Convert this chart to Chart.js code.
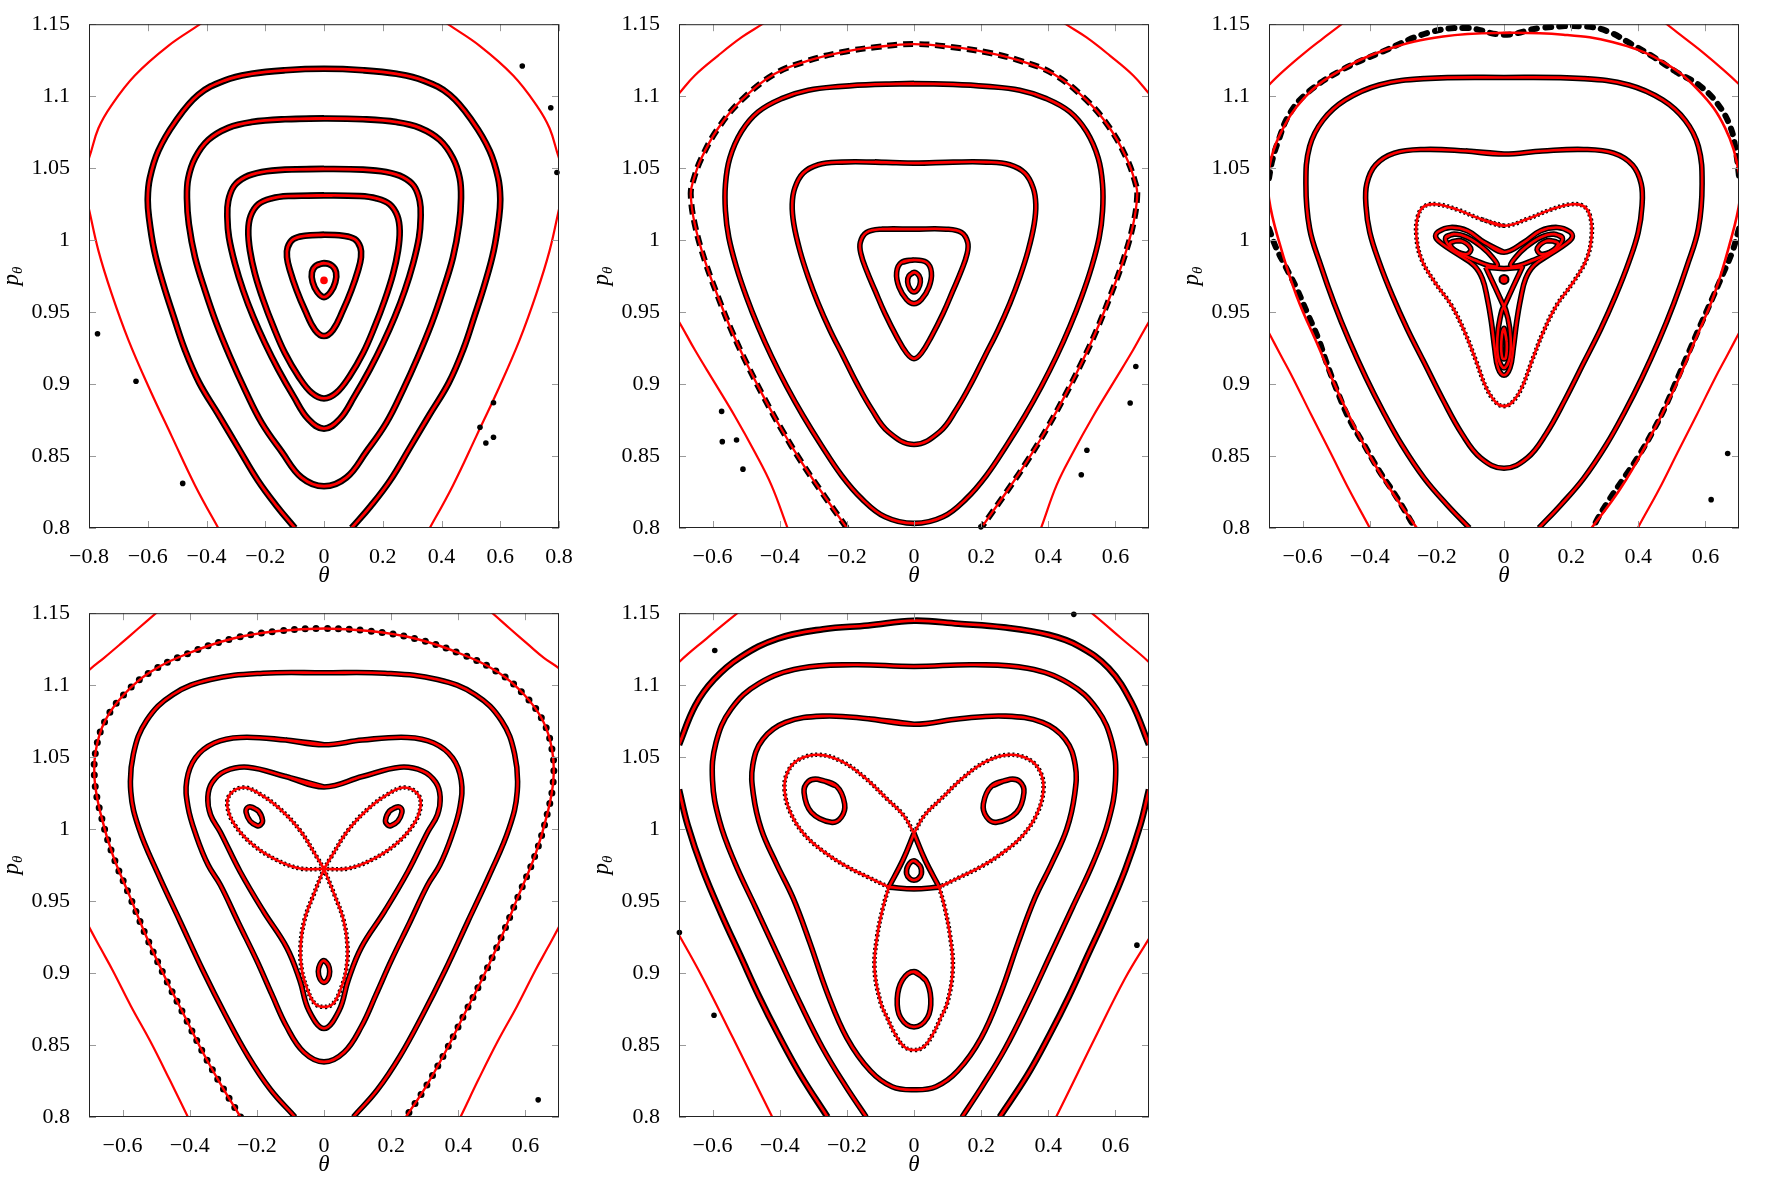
<!DOCTYPE html>
<html>
<head>
<meta charset="utf-8">
<title>Poincaré sections</title>
<script src="https://cdn.jsdelivr.net/npm/chart.js@4/dist/chart.umd.min.js"></script>
<style>
  html, body { margin: 0; padding: 0; background: #fff; }
  #sheet { position: relative; width: 1771px; height: 1180px; background: #fff; }
  #sheet canvas { position: absolute; }
</style>
</head>
<body>
<div id="sheet"></div>
<script>
// tick values
const yTicks = [0.8, 0.85, 0.9, 0.95, 1, 1.05, 1.1, 1.15];
const xTicksWide = [-0.8, -0.6, -0.4, -0.2, 0, 0.2, 0.4, 0.6, 0.8];
const xTicksNarrow = [-0.6, -0.4, -0.2, 0, 0.2, 0.4, 0.6];

// ---------- panel 1 (theta, p_theta) ----------
const p1SepTopLeft = [[-0.81,1.054],[-0.8,1.057],[-0.768,1.0777],[-0.723,1.0938],[-0.644,1.1144],[-0.53,1.135],[-0.422,1.15],[-0.41,1.152]];
const p1SepTopRight = [[0.41,1.152],[0.422,1.15],[0.53,1.135],[0.644,1.1144],[0.723,1.0938],[0.768,1.0777],[0.8,1.057],[0.81,1.054]];
const p1SepBottomLeft = [[-0.81,1.03],[-0.8,1.0214],[-0.768,0.9927],[-0.723,0.9628],[-0.666,0.9307],[-0.598,0.8985],[-0.519,0.864],[-0.439,0.8296],[-0.36,0.8],[-0.35,0.797]];
const p1SepBottomRight = [[0.81,1.03],[0.8,1.0214],[0.768,0.9927],[0.723,0.9628],[0.666,0.9307],[0.598,0.8985],[0.519,0.864],[0.439,0.8296],[0.36,0.8],[0.35,0.797]];
const p1Outer = [[-0.099,0.8],[-0.16,0.815],[-0.225,0.833],[-0.29,0.855],[-0.357,0.878],[-0.425,0.901],[-0.474,0.924],[-0.512,0.947],[-0.548,0.97],[-0.578,0.993],[-0.596,1.016],[-0.6,1.029],[-0.593,1.043],[-0.564,1.062],[-0.507,1.082],[-0.428,1.101],[-0.337,1.111],[-0.247,1.1155],[-0.133,1.118],[0,1.119],[0.133,1.118],[0.247,1.1155],[0.337,1.111],[0.428,1.101],[0.507,1.082],[0.564,1.062],[0.593,1.043],[0.6,1.029],[0.596,1.016],[0.578,0.993],[0.548,0.97],[0.512,0.947],[0.474,0.924],[0.425,0.901],[0.357,0.878],[0.29,0.855],[0.225,0.833],[0.158,0.815],[0.094,0.8]];
const p1Ring1 = [[0,1.0845],[-0.133,1.084],[-0.247,1.082],[-0.326,1.078],[-0.394,1.0696],[-0.439,1.057],[-0.462,1.043],[-0.4665,1.029],[-0.46,1.011],[-0.439,0.988],[-0.405,0.965],[-0.366,0.942],[-0.32,0.919],[-0.269,0.896],[-0.212,0.873],[-0.144,0.853],[-0.076,0.835],[0,0.829],[0.076,0.835],[0.144,0.853],[0.212,0.873],[0.269,0.896],[0.32,0.919],[0.366,0.942],[0.405,0.965],[0.439,0.988],[0.46,1.011],[0.4665,1.029],[0.462,1.043],[0.439,1.057],[0.394,1.0696],[0.326,1.078],[0.247,1.082],[0.133,1.084]];
const p1Ring2 = [[0,1.0494],[-0.133,1.049],[-0.212,1.0473],[-0.269,1.0437],[-0.3065,1.0375],[-0.326,1.0271],[-0.329,1.0156],[-0.3235,1.0019],[-0.303,0.9835],[-0.275,0.965],[-0.241,0.9467],[-0.201,0.9284],[-0.1555,0.91],[-0.104,0.8916],[-0.053,0.8755],[0,0.869],[0.053,0.8755],[0.104,0.8916],[0.1555,0.91],[0.201,0.9284],[0.241,0.9467],[0.275,0.965],[0.303,0.9835],[0.3235,1.0019],[0.329,1.0156],[0.326,1.0271],[0.3065,1.0375],[0.269,1.0437],[0.212,1.0473],[0.133,1.049]];
const p1Ring3 = [[0,1.031],[-0.1215,1.0306],[-0.178,1.029],[-0.2236,1.0249],[-0.2497,1.0168],[-0.2577,1.0065],[-0.252,0.9927],[-0.235,0.9766],[-0.2066,0.9582],[-0.1725,0.9399],[-0.133,0.9215],[-0.087,0.9054],[-0.042,0.8939],[0,0.89],[0.042,0.8939],[0.087,0.9054],[0.133,0.9215],[0.1725,0.9399],[0.2066,0.9582],[0.235,0.9766],[0.252,0.9927],[0.2577,1.0065],[0.2497,1.0168],[0.2236,1.0249],[0.178,1.029],[0.1215,1.0306]];
const p1Ring4 = [[0,1.0037],[-0.0647,1.003],[-0.1044,1.0007],[-0.1237,0.995],[-0.126,0.9881],[-0.1158,0.9789],[-0.093,0.9651],[-0.0647,0.9513],[-0.0306,0.9376],[0,0.9334],[0.0306,0.9376],[0.0647,0.9513],[0.093,0.9651],[0.1158,0.9789],[0.126,0.9881],[0.1237,0.995],[0.1044,1.0007],[0.0647,1.003]];
const p1Ring5 = [[0,0.984],[-0.027,0.9823],[-0.041,0.9777],[-0.0386,0.9708],[-0.0227,0.9639],[0,0.9604],[0.0227,0.9639],[0.0386,0.9708],[0.041,0.9777],[0.027,0.9823]];
const p1Centre = [[0,0.972]];
const p1Dots = [[-0.771,0.935],[-0.64,0.902],[-0.481,0.831],[0.675,1.121],[0.772,1.092],[0.793,1.047],[0.531,0.87],[0.551,0.859],[0.577,0.887],[0.577,0.863]];

// ---------- panel 2 ----------
const p2SepTopLeft = [[-0.71,1.099],[-0.7,1.1018],[-0.653,1.1144],[-0.5835,1.1282],[-0.514,1.1408],[-0.452,1.15],[-0.44,1.152]];
const p2SepTopRight = [[0.44,1.152],[0.452,1.15],[0.514,1.1408],[0.5835,1.1282],[0.653,1.1144],[0.7,1.1018],[0.71,1.099]];
const p2SepBottomLeft = [[-0.71,0.946],[-0.7,0.9433],[-0.653,0.9238],[-0.5934,0.9008],[-0.534,0.8778],[-0.474,0.8526],[-0.4245,0.8296],[-0.3767,0.8],[-0.37,0.796]];
const p2SepBottomRight = [[0.71,0.946],[0.7,0.9433],[0.653,0.9238],[0.5934,0.9008],[0.534,0.8778],[0.474,0.8526],[0.4245,0.8296],[0.3785,0.8],[0.37,0.796]];
const p2Chaotic = [[-0.2,0.8],[-0.2753,0.825],[-0.335,0.8457],[-0.3946,0.8686],[-0.449,0.8916],[-0.499,0.9146],[-0.544,0.9375],[-0.5835,0.9605],[-0.623,0.9858],[-0.653,1.011],[-0.665,1.0317],[-0.658,1.0409],[-0.633,1.057],[-0.5835,1.0777],[-0.514,1.0972],[-0.4145,1.1155],[-0.315,1.1247],[-0.2157,1.1305],[-0.1163,1.134],[0,1.1362],[0.1163,1.134],[0.2157,1.1305],[0.315,1.1247],[0.4145,1.1155],[0.514,1.0972],[0.5835,1.0777],[0.633,1.057],[0.658,1.0409],[0.665,1.0317],[0.653,1.011],[0.623,0.9858],[0.5835,0.9605],[0.544,0.9375],[0.499,0.9146],[0.449,0.8916],[0.3946,0.8686],[0.335,0.8457],[0.2753,0.825],[0.2,0.8]];
const p2Ring1 = [[0,1.1087],[-0.1163,1.1082],[-0.2157,1.1068],[-0.315,1.1041],[-0.3946,1.0983],[-0.4642,1.0891],[-0.514,1.0754],[-0.5487,1.057],[-0.5616,1.0386],[-0.5616,1.0202],[-0.5517,1.0019],[-0.5288,0.9812],[-0.499,0.9605],[-0.4642,0.9399],[-0.4245,0.9192],[-0.3797,0.8985],[-0.33,0.8778],[-0.2753,0.8572],[-0.2157,0.8365],[-0.156,0.8204],[-0.0865,0.8078],[0,0.8032],[0.0865,0.8078],[0.156,0.8204],[0.2157,0.8365],[0.2753,0.8572],[0.33,0.8778],[0.3797,0.8985],[0.4245,0.9192],[0.4642,0.9399],[0.499,0.9605],[0.5288,0.9812],[0.5517,1.0019],[0.5616,1.0202],[0.5616,1.0386],[0.5487,1.057],[0.514,1.0754],[0.4642,1.0891],[0.3946,1.0983],[0.315,1.1041],[0.2157,1.1068],[0.1163,1.1082]];
const p2Ring2 = [[0,1.0535],[-0.1163,1.0542],[-0.2157,1.0542],[-0.2853,1.0524],[-0.33,1.0466],[-0.3549,1.0363],[-0.3628,1.0248],[-0.3579,1.011],[-0.34,0.9927],[-0.3151,0.9743],[-0.2853,0.9559],[-0.2505,0.9376],[-0.2107,0.9192],[-0.171,0.9008],[-0.1262,0.8825],[-0.0765,0.8668],[0,0.858],[0.0765,0.8668],[0.1262,0.8825],[0.171,0.9008],[0.2107,0.9192],[0.2505,0.9376],[0.2853,0.9559],[0.3151,0.9743],[0.34,0.9927],[0.3579,1.011],[0.3628,1.0248],[0.3549,1.0363],[0.33,1.0466],[0.2853,1.0524],[0.2157,1.0542],[0.1163,1.0542]];
const p2Ring3 = [[0,1.0076],[-0.0964,1.0076],[-0.1412,1.0053],[-0.16,0.9984],[-0.158,0.9904],[-0.1412,0.9789],[-0.1163,0.9651],[-0.0865,0.949],[-0.0517,0.933],[-0.0219,0.9215],[0,0.9176],[0.0219,0.9215],[0.0517,0.933],[0.0865,0.949],[0.1163,0.9651],[0.1412,0.9789],[0.158,0.9904],[0.16,0.9984],[0.1412,1.0053],[0.0964,1.0076]];
const p2Ring4 = [[0,0.9862],[-0.0368,0.9846],[-0.0517,0.9777],[-0.0447,0.9674],[-0.0219,0.9587],[0,0.9559],[0.0219,0.9587],[0.0447,0.9674],[0.0517,0.9777],[0.0368,0.9846]];
const p2Ring5 = [[0,0.9777],[-0.015,0.9752],[-0.019,0.971],[-0.012,0.966],[0,0.964],[0.012,0.966],[0.019,0.971],[0.015,0.9752]];
const p2Dots = [[-0.573,0.881],[-0.571,0.86],[-0.5286,0.8611],[-0.5095,0.8409],[0.1993,0.8008],[0.6607,0.9122],[0.6439,0.8868],[0.4983,0.837],[0.515,0.854]];

// ---------- panel 3 ----------
const p3SepTopLeft = [[-0.71,1.104],[-0.7,1.1078],[-0.65,1.119],[-0.5958,1.1298],[-0.54,1.14],[-0.4838,1.15],[-0.47,1.153]];
const p3SepTopRight = [[0.47,1.153],[0.4849,1.15],[0.54,1.14],[0.5958,1.1298],[0.65,1.119],[0.7,1.1083],[0.71,1.105]];
const p3SepBottomLeft = [[-0.71,0.94],[-0.7,0.9355],[-0.665,0.92],[-0.6293,0.9044],[-0.575,0.879],[-0.5174,0.8526],[-0.46,0.826],[-0.3998,0.8],[-0.39,0.795]];
const p3SepBottomRight = [[0.71,0.94],[0.7,0.9355],[0.665,0.92],[0.6293,0.9044],[0.575,0.879],[0.5174,0.8526],[0.46,0.826],[0.3987,0.8],[0.39,0.795]];
const p3Boundary = [[-0.2598,0.8],[-0.3382,0.8267],[-0.4054,0.8526],[-0.4838,0.8889],[-0.551,0.9251],[-0.6181,0.9614],[-0.6685,0.9977],[-0.7,1.0288],[-0.7,1.0495],[-0.6685,1.0728],[-0.5958,1.0987],[-0.495,1.1168],[-0.3494,1.1324],[-0.1814,1.1415],[0,1.144],[0.1769,1.1427],[0.3225,1.1376],[0.4681,1.1246],[0.58,1.1039],[0.6585,1.078],[0.7,1.0469],[0.703,1.0288],[0.6697,0.9951],[0.6249,0.9614],[0.5689,0.9303],[0.5017,0.894],[0.4233,0.8578],[0.3449,0.8267],[0.2609,0.8]];
const p3ChaosTop = [[-0.7,1.043],[-0.691,1.0547],[-0.6741,1.0676],[-0.6405,1.087],[-0.5845,1.1026],[-0.4838,1.1181],[-0.3606,1.1311],[-0.2262,1.144],[-0.1142,1.1474],[0,1.1427],[0.1097,1.1474],[0.2441,1.1484],[0.3113,1.1448],[0.3785,1.1363],[0.4457,1.1272],[0.5129,1.1168],[0.58,1.1078],[0.636,1.0948],[0.6753,1.078],[0.692,1.0598],[0.7,1.0443]];
const p3ChaosLeft = [[-0.7,1.008],[-0.6797,0.9951],[-0.6517,0.9821],[-0.6181,0.9666],[-0.5845,0.9485],[-0.551,0.9303],[-0.5286,0.9148],[-0.495,0.8941],[-0.4614,0.8759],[-0.4166,0.8578],[-0.3718,0.8397],[-0.327,0.8241],[-0.2934,0.8112],[-0.2654,0.8]];
const p3ChaosRight = [[0.7,1.008],[0.681,0.9925],[0.6529,0.9769],[0.6193,0.9588],[0.58,0.9381],[0.5465,0.92],[0.5129,0.9018],[0.4793,0.8837],[0.4457,0.8681],[0.4009,0.85],[0.3561,0.8344],[0.3113,0.8189],[0.2777,0.806],[0.2665,0.8]];
const p3Ring1 = [[-0.103,0.8],[-0.1702,0.8163],[-0.2374,0.8345],[-0.3046,0.8578],[-0.3606,0.8811],[-0.411,0.9044],[-0.4614,0.9303],[-0.5062,0.9562],[-0.5454,0.9821],[-0.579,1.008],[-0.5901,1.0391],[-0.579,1.065],[-0.5398,1.0832],[-0.4726,1.0974],[-0.3718,1.1078],[-0.2374,1.1122],[0,1.113],[0.2374,1.1122],[0.3718,1.1078],[0.4726,1.0974],[0.5398,1.0832],[0.579,1.065],[0.5901,1.0391],[0.579,1.008],[0.5454,0.9821],[0.5062,0.9562],[0.4614,0.9303],[0.411,0.9044],[0.3606,0.8811],[0.3046,0.8578],[0.2374,0.8345],[0.1702,0.8163],[0.104,0.8]];
const p3Ring2 = [[0,1.0598],[-0.1142,1.0619],[-0.2374,1.063],[-0.327,1.0604],[-0.383,1.0521],[-0.4087,1.0391],[-0.411,1.0236],[-0.3998,1.0054],[-0.3718,0.9847],[-0.3326,0.9614],[-0.2878,0.9381],[-0.2374,0.9148],[-0.1814,0.8889],[-0.1254,0.8655],[-0.0694,0.8487],[0,0.8415],[0.0694,0.8487],[0.1254,0.8655],[0.1814,0.8889],[0.2374,0.9148],[0.2878,0.9381],[0.3326,0.9614],[0.3718,0.9847],[0.3998,1.0054],[0.411,1.0236],[0.4087,1.0391],[0.383,1.0521],[0.327,1.0604],[0.2374,1.063],[0.1142,1.0619]];
const p3Chain = [[0,1.01],[-0.0678,1.0145],[-0.1373,1.021],[-0.1968,1.0248],[-0.2363,1.0237],[-0.2562,1.0168],[-0.261,1.003],[-0.2461,0.9869],[-0.2066,0.9709],[-0.157,0.9548],[-0.1174,0.9364],[-0.0826,0.9157],[-0.0529,0.8974],[-0.0232,0.887],[0,0.8847],[0.0232,0.887],[0.0529,0.8974],[0.0826,0.9157],[0.1174,0.9364],[0.157,0.9548],[0.2066,0.9709],[0.2461,0.9869],[0.261,1.003],[0.2562,1.0168],[0.2363,1.0237],[0.1968,1.0248],[0.1373,1.021],[0.0678,1.0145]];
const p3Trefoil = [[0,0.9916],[-0.0595,0.9985],[-0.109,1.0065],[-0.1586,1.0088],[-0.1962,1.0058],[-0.2032,1.0019],[-0.1834,0.9973],[-0.1388,0.9904],[-0.0892,0.9824],[-0.0644,0.9732],[-0.0496,0.9594],[-0.0377,0.9433],[-0.0278,0.925],[-0.0178,0.9112],[0,0.9061],[0.0178,0.9112],[0.0278,0.925],[0.0377,0.9433],[0.0496,0.9594],[0.0644,0.9732],[0.0892,0.9824],[0.1388,0.9904],[0.1834,0.9973],[0.2032,1.0019],[0.1962,1.0058],[0.1586,1.0088],[0.109,1.0065],[0.0595,0.9985]];
const p3LobeL = [[-0.1734,1.0019],[-0.1487,1.0042],[-0.109,1.0019],[-0.0644,0.995],[-0.0347,0.9881],[-0.0198,0.9824],[-0.0446,0.9824],[-0.0842,0.9858],[-0.1288,0.9904],[-0.1635,0.9962]];
const p3LobeR = [[0.1734,1.0019],[0.1487,1.0042],[0.109,1.0019],[0.0644,0.995],[0.0347,0.9881],[0.0198,0.9824],[0.0446,0.9824],[0.0842,0.9858],[0.1288,0.9904],[0.1635,0.9962]];
const p3LobeB = [[0,0.9537],[0.0119,0.9456],[0.0198,0.9319],[0.0168,0.9181],[0,0.9112],[-0.0168,0.9181],[-0.0198,0.9319],[-0.0119,0.9456]];
const p3Triangle = [[-0.0545,0.9812],[0,0.9802],[0.0545,0.9812],[0.026,0.967],[0,0.9537],[-0.026,0.967]];
const p3IslandL = [[-0.1586,0.9985],[-0.1288,0.9996],[-0.0991,0.9943],[-0.109,0.9904],[-0.1388,0.9916],[-0.1566,0.995]];
const p3IslandR = [[0.1586,0.9985],[0.1288,0.9996],[0.0991,0.9943],[0.109,0.9904],[0.1388,0.9916],[0.1566,0.995]];
const p3IslandB = [[0,0.9388],[0.008,0.9296],[0.005,0.918],[-0.005,0.918],[-0.008,0.9296]];
const p3Centre = [[0,0.9727]];
const p3Dots = [[0.6663,0.8518],[0.617,0.8197]];

// ---------- panel 4 ----------
const p4SepTopLeft = [[-0.71,1.107],[-0.7,1.1104],[-0.655,1.119],[-0.607,1.1285],[-0.555,1.139],[-0.5006,1.15],[-0.49,1.152]];
const p4SepTopRight = [[0.49,1.152],[0.5017,1.15],[0.555,1.139],[0.607,1.1285],[0.655,1.119],[0.7,1.1117],[0.71,1.109]];
const p4SepBottomLeft = [[-0.71,0.937],[-0.7,0.9321],[-0.665,0.917],[-0.6293,0.9018],[-0.575,0.877],[-0.5174,0.8526],[-0.46,0.826],[-0.4054,0.8],[-0.395,0.795]];
const p4SepBottomRight = [[0.71,0.937],[0.7,0.9321],[0.665,0.917],[0.6293,0.9018],[0.575,0.877],[0.5174,0.8526],[0.46,0.826],[0.4065,0.8],[0.395,0.795]];
const p4Beads = [[-0.2486,0.8],[-0.3046,0.8215],[-0.3606,0.8448],[-0.4166,0.8707],[-0.4726,0.8966],[-0.5286,0.9251],[-0.579,0.9536],[-0.6293,0.9821],[-0.6652,1.0106],[-0.6831,1.0339],[-0.6797,1.0547],[-0.6517,1.0754],[-0.5958,1.0935],[-0.5174,1.1091],[-0.4054,1.122],[-0.271,1.1324],[-0.1366,1.1376],[0,1.1394],[0.1366,1.1376],[0.271,1.1324],[0.4054,1.122],[0.5174,1.1091],[0.5958,1.0935],[0.6517,1.0754],[0.6797,1.0547],[0.6831,1.0339],[0.6652,1.0106],[0.6293,0.9821],[0.579,0.9536],[0.5286,0.9251],[0.4726,0.8966],[0.4166,0.8707],[0.3606,0.8448],[0.3046,0.8215],[0.2441,0.8]];
const p4Ring1 = [[-0.0862,0.8],[-0.159,0.8189],[-0.2262,0.8422],[-0.2934,0.8707],[-0.3606,0.9018],[-0.4278,0.9355],[-0.495,0.9692],[-0.551,1.0003],[-0.5756,1.0262],[-0.5678,1.0521],[-0.5286,1.0754],[-0.4502,1.0935],[-0.3382,1.1039],[-0.1814,1.1083],[0,1.1086],[0.1814,1.1083],[0.3382,1.1039],[0.4502,1.0935],[0.5286,1.0754],[0.5678,1.0521],[0.5756,1.0262],[0.551,1.0003],[0.495,0.9692],[0.4278,0.9355],[0.3606,0.9018],[0.2934,0.8707],[0.2262,0.8422],[0.159,0.8189],[0.0873,0.8]];
const p4Ring2 = [[0,1.0586],[-0.1142,1.0619],[-0.2486,1.0637],[-0.327,1.0598],[-0.383,1.0495],[-0.4087,1.0339],[-0.4054,1.0158],[-0.38,0.995],[-0.345,0.975],[-0.309,0.9613],[-0.255,0.935],[-0.2,0.9086],[-0.155,0.885],[-0.111,0.8627],[-0.06,0.845],[0,0.8383],[0.06,0.845],[0.111,0.8627],[0.155,0.885],[0.2,0.9086],[0.255,0.935],[0.309,0.9613],[0.345,0.975],[0.38,0.995],[0.4054,1.0158],[0.4087,1.0339],[0.383,1.0495],[0.327,1.0598],[0.2486,1.0637],[0.1142,1.0619]];
const p4Ring3 = [[0,1.0293],[-0.1142,1.0365],[-0.2262,1.043],[-0.2934,1.0404],[-0.3326,1.0326],[-0.346,1.0223],[-0.338,1.01],[-0.309,0.998],[-0.2497,0.9704],[-0.1804,0.9429],[-0.111,0.9177],[-0.072,0.895],[-0.045,0.874],[0,0.8615],[0.045,0.874],[0.072,0.895],[0.111,0.9177],[0.1804,0.9429],[0.2497,0.9704],[0.309,0.998],[0.338,1.01],[0.346,1.0223],[0.3326,1.0326],[0.2934,1.0404],[0.2262,1.043],[0.1142,1.0365]];
const p4LobeL = [[0,0.9723],[-0.0218,0.9808],[-0.0714,0.9991],[-0.1308,1.014],[-0.1903,1.0243],[-0.2398,1.0289],[-0.2795,1.0243],[-0.2874,1.0152],[-0.2646,1.0025],[-0.2101,0.9888],[-0.1407,0.9785],[-0.0714,0.9727],[0,0.9723]];
const p4LobeR = [[0,0.9723],[0.0218,0.9808],[0.0714,0.9991],[0.1308,1.014],[0.1903,1.0243],[0.2398,1.0289],[0.2795,1.0243],[0.2874,1.0152],[0.2646,1.0025],[0.2101,0.9888],[0.1407,0.9785],[0.0714,0.9727],[0,0.9723]];
const p4LobeB = [[0,0.9723],[0.03,0.955],[0.058,0.937],[0.07,0.918],[0.066,0.902],[0.05,0.889],[0.028,0.879],[0,0.8765],[-0.028,0.879],[-0.05,0.889],[-0.066,0.902],[-0.07,0.918],[-0.058,0.937],[-0.03,0.955],[0,0.9723]];
const p4IslandL = [[-0.215,1.0152],[-0.195,1.0125],[-0.183,1.006],[-0.19,1.0028],[-0.2,1.0025],[-0.22,1.0055],[-0.232,1.0115],[-0.228,1.0148]];
const p4IslandR = [[0.215,1.0152],[0.195,1.0125],[0.183,1.006],[0.19,1.0028],[0.2,1.0025],[0.22,1.0055],[0.232,1.0115],[0.228,1.0148]];
const p4IslandB = [[0,0.9087],[0.012,0.906],[0.017,0.901],[0.012,0.896],[0,0.8935],[-0.012,0.896],[-0.017,0.901],[-0.012,0.906]];
const p4Dots = [[0.638,0.8119]];

// ---------- panel 5 ----------
const p5SepTopLeft = [[-0.71,1.112],[-0.7,1.116],[-0.6181,1.1324],[-0.5263,1.15],[-0.515,1.152]];
const p5SepTopRight = [[0.515,1.152],[0.5297,1.15],[0.618,1.1324],[0.7,1.116],[0.71,1.112]];
const p5SepBottomLeft = [[-0.71,0.93],[-0.7,0.9264],[-0.6293,0.8966],[-0.5398,0.8552],[-0.4222,0.8],[-0.41,0.795]];
const p5SepBottomRight = [[0.71,0.928],[0.7,0.924],[0.6293,0.8966],[0.5398,0.8552],[0.4233,0.8],[0.41,0.795]];
const p5OuterTop = [[-0.7,1.0586],[-0.6517,1.0858],[-0.5958,1.1039],[-0.5174,1.1194],[-0.4054,1.1324],[-0.271,1.1389],[-0.1366,1.1415],[0,1.1448],[0.1321,1.1427],[0.2665,1.1402],[0.4009,1.135],[0.4905,1.1272],[0.58,1.1117],[0.6472,1.0883],[0.7,1.0586]];
const p5OuterLeft = [[-0.7,1.0275],[-0.6741,1.0028],[-0.6293,0.9718],[-0.5734,0.9407],[-0.5174,0.9122],[-0.4614,0.8837],[-0.4054,0.8578],[-0.3382,0.8293],[-0.2576,0.8]];
const p5OuterRight = [[0.7,1.0275],[0.6741,1.0028],[0.6293,0.9718],[0.5734,0.9407],[0.5174,0.9122],[0.4614,0.8837],[0.4054,0.8578],[0.3382,0.8293],[0.2553,0.8]];
const p5Ring1 = [[-0.1422,0.8],[-0.2038,0.8215],[-0.271,0.8474],[-0.3382,0.8785],[-0.4054,0.9122],[-0.4726,0.9459],[-0.5342,0.9769],[-0.579,1.0054],[-0.6002,1.0339],[-0.5901,1.0598],[-0.5454,1.0832],[-0.4614,1.1013],[-0.3382,1.1117],[-0.1814,1.1142],[0,1.113],[0.1814,1.1142],[0.3382,1.1117],[0.4614,1.1013],[0.5454,1.0832],[0.5901,1.0598],[0.6002,1.0339],[0.579,1.0054],[0.5342,0.9769],[0.4726,0.9459],[0.4054,0.9122],[0.3382,0.8785],[0.271,0.8474],[0.2038,0.8215],[0.1433,0.8]];
const p5Ring2 = [[0,1.0728],[-0.1366,1.0767],[-0.271,1.0785],[-0.383,1.0741],[-0.4502,1.0624],[-0.4804,1.0443],[-0.4782,1.0236],[-0.455,1.0],[-0.41,0.976],[-0.36,0.952],[-0.31,0.921],[-0.258,0.886],[-0.2,0.855],[-0.13,0.832],[-0.065,0.821],[0,0.8189],[0.065,0.821],[0.13,0.832],[0.2,0.855],[0.258,0.886],[0.31,0.921],[0.36,0.952],[0.41,0.976],[0.455,1.0],[0.4782,1.0236],[0.4804,1.0443],[0.4502,1.0624],[0.383,1.0741],[0.271,1.0785],[0.1366,1.0767]];
const p5LobeL = [[-0.075,0.9597],[-0.1366,0.9666],[-0.2038,0.9744],[-0.271,0.9847],[-0.327,0.9964],[-0.3662,1.0106],[-0.3852,1.0262],[-0.3774,1.0391],[-0.3438,1.0482],[-0.2822,1.0516],[-0.215,1.047],[-0.1478,1.036],[-0.0806,1.021],[-0.0302,1.0093],[0,0.997]];
const p5LobeR = [[0,0.997],[0.0302,1.0093],[0.0806,1.021],[0.1478,1.036],[0.215,1.047],[0.2822,1.0516],[0.3438,1.0482],[0.3774,1.0391],[0.3852,1.0262],[0.3662,1.0106],[0.327,0.9964],[0.271,0.9847],[0.2038,0.9744],[0.1366,0.9666],[0.075,0.9597]];
const p5LobeB = [[0.075,0.9597],[0.092,0.945],[0.108,0.925],[0.1155,0.903],[0.1,0.88],[0.078,0.868],[0.055,0.857],[0.03,0.849],[0,0.8465],[-0.03,0.849],[-0.055,0.857],[-0.078,0.868],[-0.1,0.88],[-0.1175,0.903],[-0.11,0.925],[-0.093,0.945],[-0.075,0.9597]];
const p5EdgeL = [[0,0.997],[-0.033,0.9785],[-0.075,0.9597]];
const p5EdgeR = [[0,0.997],[0.033,0.9785],[0.075,0.9597]];
const p5EdgeB = [[-0.075,0.9597],[0,0.9585],[0.075,0.9597]];
const p5IslandL = [[-0.2859,1.0346],[-0.2314,1.03],[-0.2066,1.0175],[-0.2166,1.0083],[-0.2462,1.0048],[-0.3057,1.0117],[-0.3275,1.0255],[-0.315,1.033]];
const p5IslandR = [[0.2859,1.0346],[0.2314,1.03],[0.2066,1.0175],[0.2166,1.0083],[0.2462,1.0048],[0.3057,1.0117],[0.3275,1.0255],[0.315,1.033]];
const p5IslandB = [[0,0.901],[0.035,0.895],[0.05,0.882],[0.04,0.869],[0,0.8625],[-0.04,0.869],[-0.05,0.882],[-0.035,0.895]];
const p5IslandC = [[0,0.978],[0.018,0.9745],[0.022,0.969],[0.012,0.9655],[0,0.9645],[-0.012,0.9655],[-0.022,0.969],[-0.018,0.9745]];
const p5Dots = [[-0.5935,1.1241],[0.476,1.1492],[-0.6988,0.9282],[-0.5957,0.8707],[0.664,0.9194]];

// ---------- looks ----------
const RED = '#ff0000';
const BLACK = '#000000';
const LOOKS = {
  thick:  [{ color: BLACK, width: 6.6 }, { color: RED, width: 2.8 }],
  orbit:  [{ color: BLACK, width: 5.6 }, { color: RED, width: 2.6 }],
  chain:  [{ color: BLACK, width: 4.6, dash: [2, 2.5] }, { color: RED, width: 2.6 }],
  dashed: [{ color: BLACK, width: 6, dash: [10, 6] }, { color: RED, width: 2.3 }],
  beads:  [{ color: BLACK, width: 7, dash: [0, 11], cap: 'round' }, { color: RED, width: 2.4 }],
  chaos:  [{ color: BLACK, width: 6, dash: [6, 8], cap: 'round' }],
  sep:    [{ color: RED, width: 2.2 }],
  bound:  [{ color: RED, width: 2.6 }]
};

const seps = (a, b, c, d) => [a, b, c, d].map(pts => ({ pts, look: 'sep' }));

const panels = [
  { left: 0, top: 0, xMin: -0.8, xMax: 0.8, xTicks: xTicksWide, series: [
    ...seps(p1SepTopLeft, p1SepTopRight, p1SepBottomLeft, p1SepBottomRight),
    { pts: p1Outer, look: 'thick' },
    { pts: p1Ring1, look: 'thick', closed: true },
    { pts: p1Ring2, look: 'thick', closed: true },
    { pts: p1Ring3, look: 'thick', closed: true },
    { pts: p1Ring4, look: 'thick', closed: true },
    { pts: p1Ring5, look: 'thick', closed: true },
    { pts: p1Dots, look: 'dots' },
    { pts: p1Centre, look: 'redDot' }
  ]},
  { left: 590, top: 0, xMin: -0.7, xMax: 0.7, xTicks: xTicksNarrow, series: [
    ...seps(p2SepTopLeft, p2SepTopRight, p2SepBottomLeft, p2SepBottomRight),
    { pts: p2Chaotic, look: 'dashed' },
    { pts: p2Ring1, look: 'orbit', closed: true },
    { pts: p2Ring2, look: 'orbit', closed: true },
    { pts: p2Ring3, look: 'orbit', closed: true },
    { pts: p2Ring4, look: 'orbit', closed: true },
    { pts: p2Ring5, look: 'orbit', closed: true },
    { pts: p2Dots, look: 'dots' }
  ]},
  { left: 1180, top: 0, xMin: -0.7, xMax: 0.7, xTicks: xTicksNarrow, series: [
    ...seps(p3SepTopLeft, p3SepTopRight, p3SepBottomLeft, p3SepBottomRight),
    { pts: p3ChaosTop, look: 'chaos' },
    { pts: p3ChaosLeft, look: 'chaos' },
    { pts: p3ChaosRight, look: 'chaos' },
    { pts: p3Boundary, look: 'bound' },
    { pts: p3Ring1, look: 'orbit' },
    { pts: p3Ring2, look: 'orbit', closed: true },
    { pts: p3Chain, look: 'chain', closed: true },
    { pts: p3Trefoil, look: 'orbit', closed: true },
    { pts: p3LobeL, look: 'orbit', closed: true },
    { pts: p3LobeR, look: 'orbit', closed: true },
    { pts: p3LobeB, look: 'orbit', closed: true },
    { pts: p3Triangle, look: 'orbit', closed: true, sharp: true },
    { pts: p3IslandL, look: 'orbit', closed: true },
    { pts: p3IslandR, look: 'orbit', closed: true },
    { pts: p3IslandB, look: 'orbit', closed: true },
    { pts: p3Centre, look: 'ringDot' },
    { pts: p3Dots, look: 'dots' }
  ]},
  { left: 0, top: 589, xMin: -0.7, xMax: 0.7, xTicks: xTicksNarrow, series: [
    ...seps(p4SepTopLeft, p4SepTopRight, p4SepBottomLeft, p4SepBottomRight),
    { pts: p4Beads, look: 'beads' },
    { pts: p4Ring1, look: 'orbit' },
    { pts: p4Ring2, look: 'orbit', closed: true },
    { pts: p4Ring3, look: 'orbit', closed: true },
    { pts: p4LobeL, look: 'chain' },
    { pts: p4LobeR, look: 'chain' },
    { pts: p4LobeB, look: 'chain' },
    { pts: p4IslandL, look: 'orbit', closed: true },
    { pts: p4IslandR, look: 'orbit', closed: true },
    { pts: p4IslandB, look: 'orbit', closed: true },
    { pts: p4Dots, look: 'dots' }
  ]},
  { left: 590, top: 589, xMin: -0.7, xMax: 0.7, xTicks: xTicksNarrow, series: [
    ...seps(p5SepTopLeft, p5SepTopRight, p5SepBottomLeft, p5SepBottomRight),
    { pts: p5OuterTop, look: 'thick' },
    { pts: p5OuterLeft, look: 'thick' },
    { pts: p5OuterRight, look: 'thick' },
    { pts: p5Ring1, look: 'orbit' },
    { pts: p5Ring2, look: 'orbit', closed: true },
    { pts: p5LobeL, look: 'chain' },
    { pts: p5LobeR, look: 'chain' },
    { pts: p5LobeB, look: 'chain' },
    { pts: p5EdgeL, look: 'orbit' },
    { pts: p5EdgeR, look: 'orbit' },
    { pts: p5EdgeB, look: 'orbit' },
    { pts: p5IslandL, look: 'orbit', closed: true },
    { pts: p5IslandR, look: 'orbit', closed: true },
    { pts: p5IslandB, look: 'orbit', closed: true },
    { pts: p5IslandC, look: 'orbit', closed: true },
    { pts: p5Dots, look: 'dots' }
  ]}
];

const toXY = pts => pts.map(([x, y]) => ({ x, y }));

function buildDatasets(series) {
  const sets = [];
  for (const s of series) {
    if (s.look === 'dots' || s.look === 'redDot' || s.look === 'ringDot') {
      const red = s.look !== 'dots';
      sets.push({
        data: toXY(s.pts), showLine: false, clip: false,
        pointRadius: s.look === 'ringDot' ? 4.5 : (red ? 3.8 : 2.8),
        pointBackgroundColor: red ? RED : BLACK,
        pointBorderColor: BLACK,
        pointBorderWidth: s.look === 'ringDot' ? 2 : 0,
        order: 0
      });
      continue;
    }
    // closed orbits: run past the start so the join is smooth
    const pts = s.closed ? s.pts.concat(s.sharp ? [s.pts[0]] : [s.pts[0], s.pts[1]]) : s.pts;
    for (const layer of LOOKS[s.look]) {
      sets.push({
        data: toXY(pts), showLine: true,
        pointRadius: 0, pointHoverRadius: 0,
        borderColor: layer.color, borderWidth: layer.width,
        borderDash: layer.dash || [], borderCapStyle: layer.cap || 'butt',
        borderJoinStyle: 'round',
        tension: s.sharp ? 0 : 0.4, clip: 0,
        order: layer.color === RED ? 1 : 2
      });
    }
  }
  return sets;
}

const fmt = v => (Math.abs(v) < 1e-9 ? '0' : String(+v.toFixed(2))).replace('-', '\u2212');
const FONT = '"Liberation Serif", "DejaVu Serif", serif';

// frame, inward ticks on all four sides, axis titles
const framePlugin = {
  id: 'frame',
  afterDatasetsDraw(chart) {
    const { ctx, chartArea: a, scales: { x, y } } = chart;
    ctx.save();
    ctx.lineWidth = 1;
    ctx.strokeStyle = '#9a9a9a';
    ctx.beginPath();
    for (const t of x.ticks) {
      const px = Math.round(x.getPixelForValue(t.value)) + 0.5;
      ctx.moveTo(px, a.bottom); ctx.lineTo(px, a.bottom - 7);
      ctx.moveTo(px, a.top); ctx.lineTo(px, a.top + 7);
    }
    for (const t of y.ticks) {
      const py = Math.round(y.getPixelForValue(t.value)) + 0.5;
      ctx.moveTo(a.left, py); ctx.lineTo(a.left + 7, py);
      ctx.moveTo(a.right, py); ctx.lineTo(a.right - 7, py);
    }
    ctx.stroke();
    ctx.strokeStyle = '#222';
    ctx.strokeRect(a.left + 0.5, a.top + 0.5, a.right - a.left - 1, a.bottom - a.top - 1);

    ctx.fillStyle = '#000';
    ctx.textAlign = 'center';
    ctx.textBaseline = 'alphabetic';
    ctx.font = 'italic 23px ' + FONT;
    ctx.fillText('\u03b8', (a.left + a.right) / 2, a.bottom + 54);

    ctx.translate(18, (a.top + a.bottom) / 2);
    ctx.rotate(-Math.PI / 2);
    ctx.textAlign = 'left';
    ctx.font = 'italic 23px ' + FONT;
    const pw = ctx.measureText('p').width;
    ctx.font = 'italic 15px ' + FONT;
    const tw = ctx.measureText('\u03b8').width;
    const x0 = -(pw + tw) / 2;
    ctx.font = 'italic 23px ' + FONT;
    ctx.fillText('p', x0, 0);
    ctx.font = 'italic 15px ' + FONT;
    ctx.fillText('\u03b8', x0 + pw, 4);
    ctx.restore();
  }
};

const sheet = document.getElementById('sheet');
for (const panel of panels) {
  const canvas = document.createElement('canvas');
  canvas.width = 590;
  canvas.height = 590;
  canvas.style.left = panel.left + 'px';
  canvas.style.top = panel.top + 'px';
  sheet.appendChild(canvas);

  new Chart(canvas, {
    type: 'scatter',
    data: { datasets: buildDatasets(panel.series) },
    options: {
      responsive: false,
      animation: false,
      events: [],
      elements: { line: { capBezierPoints: false } },
      layout: { padding: { left: 0, top: 20, right: 31, bottom: 0 } },
      plugins: { legend: { display: false }, tooltip: { enabled: false } },
      scales: {
        x: {
          type: 'linear', min: panel.xMin, max: panel.xMax,
          grid: { display: false }, border: { display: false },
          afterBuildTicks: s => { s.ticks = panel.xTicks.map(value => ({ value })); },
          afterFit: s => { s.height = 62; },
          ticks: { autoSkip: false, maxRotation: 0, padding: 8, color: '#000',
                   font: { family: FONT, size: 22 }, callback: fmt }
        },
        y: {
          type: 'linear', min: 0.8, max: 1.15,
          grid: { display: false }, border: { display: false },
          afterBuildTicks: s => { s.ticks = yTicks.map(value => ({ value })); },
          afterFit: s => { s.width = 89; },
          ticks: { autoSkip: false, padding: 11, color: '#000',
                   font: { family: FONT, size: 22 }, callback: fmt }
        }
      }
    },
    plugins: [framePlugin]
  });
}
</script>
</body>
</html>
